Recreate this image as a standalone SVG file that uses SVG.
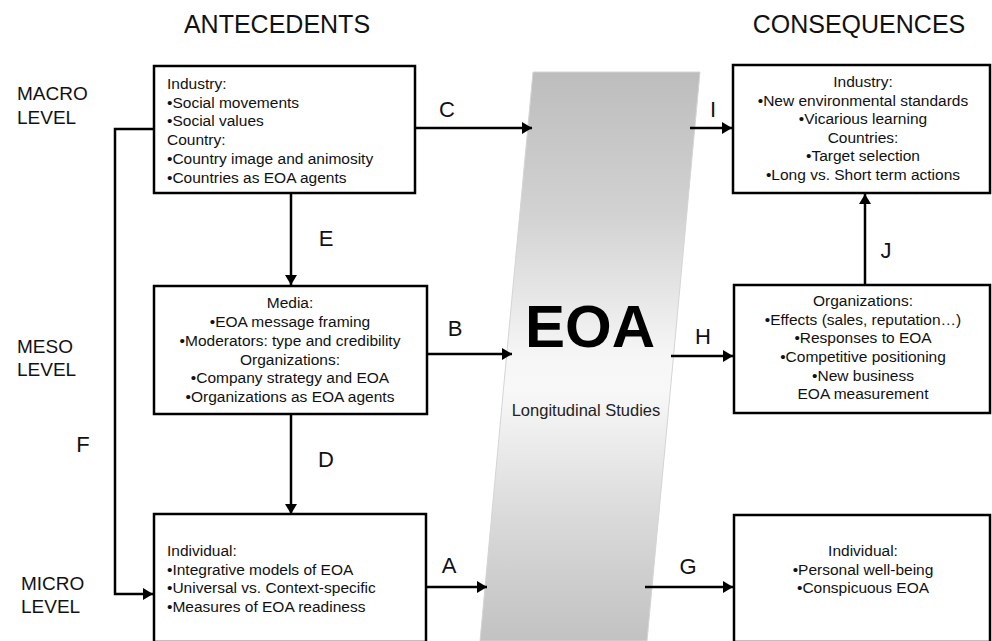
<svg xmlns="http://www.w3.org/2000/svg" width="992" height="641" viewBox="0 0 992 641">
<defs>
<linearGradient id="band" x1="0" y1="72" x2="0" y2="641" gradientUnits="userSpaceOnUse">
<stop offset="0" stop-color="#bdbdbd"/>
<stop offset="0.25" stop-color="#d2d2d2"/>
<stop offset="0.5" stop-color="#f6f6f6"/>
<stop offset="0.56" stop-color="#f8f8f8"/>
<stop offset="0.78" stop-color="#dadada"/>
<stop offset="1" stop-color="#c2c2c2"/>
</linearGradient>
<marker id="ah" markerUnits="userSpaceOnUse" markerWidth="10" markerHeight="12" refX="10" refY="6" orient="auto">
<path d="M0,0 L10,6 L0,12 z" fill="#000"/>
</marker>
<style>
.box{fill:#fff;stroke:#000;stroke-width:2.5}
.t{font-family:"Liberation Sans",Arial,sans-serif;font-size:15.5px;fill:#111}
.c{text-anchor:middle}
.hd{font-family:"Liberation Sans",Arial,sans-serif;font-size:25px;fill:#111;text-anchor:middle}
.lv{font-family:"Liberation Sans",Arial,sans-serif;font-size:19px;fill:#111}
.lb{font-family:"Liberation Sans",Arial,sans-serif;font-size:22px;fill:#111;text-anchor:middle}
.cn{fill:none;stroke:#000;stroke-width:2.5}
</style>
</defs>
<rect width="992" height="641" fill="#fff"/>

<g id="band-eoa">
<path d="M533,72 L700,72 L647,641 L480,641 z" fill="url(#band)" stroke="#d4d4d4" stroke-width="1"/>
<text x="590" y="347" font-family="Liberation Sans,Arial,sans-serif" font-size="60" font-weight="bold" text-anchor="middle" fill="#000">EOA</text>
<text x="586" y="416" font-family="Liberation Sans,Arial,sans-serif" font-size="16.5" text-anchor="middle" fill="#222">Longitudinal Studies</text>
</g>

<g id="headings">
<text class="hd" x="277" y="33">ANTECEDENTS</text>
<text class="hd" x="859" y="33">CONSEQUENCES</text>
<text class="lv" x="17" y="100">MACRO</text>
<text class="lv" x="17" y="124">LEVEL</text>
<text class="lv" x="17" y="353">MESO</text>
<text class="lv" x="17" y="376">LEVEL</text>
<text class="lv" x="21" y="590">MICRO</text>
<text class="lv" x="21" y="613">LEVEL</text>
</g>

<g id="connectors">
<path class="cn" d="M415,128 H532" marker-end="url(#ah)"/>
<path class="cn" d="M427,354 H512" marker-end="url(#ah)"/>
<path class="cn" d="M426,587 H487" marker-end="url(#ah)"/>
<path class="cn" d="M690,128 H732" marker-end="url(#ah)"/>
<path class="cn" d="M671,356 H733" marker-end="url(#ah)"/>
<path class="cn" d="M645,587 H733" marker-end="url(#ah)"/>
<path class="cn" d="M865,285 V194" marker-end="url(#ah)"/>
<path class="cn" d="M291,193 V285" marker-end="url(#ah)"/>
<path class="cn" d="M291,414 V514" marker-end="url(#ah)"/>
<path class="cn" d="M154,129 H115 V594 H153" marker-end="url(#ah)"/>
<text class="lb" x="447" y="117">C</text>
<text class="lb" x="326" y="246">E</text>
<text class="lb" x="455" y="336">B</text>
<text class="lb" x="326" y="467">D</text>
<text class="lb" x="83" y="452">F</text>
<text class="lb" x="449" y="573">A</text>
<text class="lb" x="713" y="117">I</text>
<text class="lb" x="703" y="344">H</text>
<text class="lb" x="886" y="258">J</text>
<text class="lb" x="688" y="574">G</text>
</g>

<g id="macro-antecedents">
<rect class="box" x="154" y="66" width="261" height="127"/>
<text class="t" x="167" y="89">Industry:</text>
<text class="t" x="167" y="107.5">•Social movements</text>
<text class="t" x="167" y="126">•Social values</text>
<text class="t" x="167" y="145">Country:</text>
<text class="t" x="167" y="164">•Country image and animosity</text>
<text class="t" x="167" y="183">•Countries as EOA agents</text>
</g>

<g id="meso-antecedents">
<rect class="box" x="154" y="286" width="273" height="128"/>
<text class="t c" x="290" y="308">Media:</text>
<text class="t c" x="290" y="327">•EOA message framing</text>
<text class="t c" x="290" y="346">•Moderators: type and credibility</text>
<text class="t c" x="290" y="364.5">Organizations:</text>
<text class="t c" x="290" y="383">•Company strategy and EOA</text>
<text class="t c" x="290" y="402">•Organizations as EOA agents</text>
</g>

<g id="micro-antecedents">
<rect class="box" x="154" y="514" width="272" height="128"/>
<text class="t" x="167" y="556">Individual:</text>
<text class="t" x="167" y="574.5">•Integrative models of EOA</text>
<text class="t" x="167" y="593">•Universal vs. Context-specific</text>
<text class="t" x="167" y="611.5">•Measures of EOA readiness</text>
</g>

<g id="macro-consequences">
<rect class="box" x="733" y="65" width="257" height="128"/>
<text class="t c" x="863" y="87">Industry:</text>
<text class="t c" x="863" y="105.5">•New environmental standards</text>
<text class="t c" x="863" y="124">•Vicarious learning</text>
<text class="t c" x="863" y="142.5">Countries:</text>
<text class="t c" x="863" y="161">•Target selection</text>
<text class="t c" x="863" y="179.5">•Long vs. Short term actions</text>
</g>

<g id="meso-consequences">
<rect class="box" x="734" y="285" width="256" height="128"/>
<text class="t c" x="863" y="306">Organizations:</text>
<text class="t c" x="863" y="324.5">•Effects (sales, reputation…)</text>
<text class="t c" x="863" y="343">•Responses to EOA</text>
<text class="t c" x="863" y="362">•Competitive positioning</text>
<text class="t c" x="863" y="380.5">•New business</text>
<text class="t c" x="863" y="399">EOA measurement</text>
</g>

<g id="micro-consequences">
<rect class="box" x="734" y="515" width="256" height="127"/>
<text class="t c" x="863" y="556">Individual:</text>
<text class="t c" x="863" y="575">•Personal well-being</text>
<text class="t c" x="863" y="593">•Conspicuous EOA</text>
</g>
</svg>
